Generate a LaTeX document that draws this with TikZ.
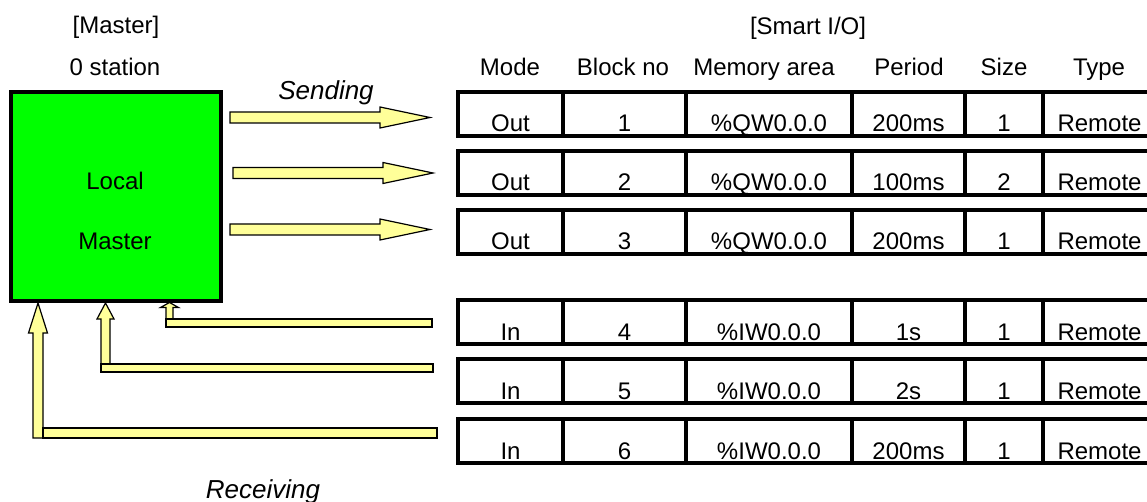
\documentclass[tikz,border=0pt]{standalone}
\usepackage{fontspec}
\setmainfont{Liberation Sans}
\usetikzlibrary{calc}
\definecolor{boxgreen}{HTML}{00FF00}
\definecolor{arrowyellow}{HTML}{FFFF99}
\tikzset{
  txt/.style={anchor=base, inner sep=0pt, font=\fontsize{24}{28}\selectfont},
  ittxt/.style={anchor=base, inner sep=0pt, font=\fontsize{26}{30}\selectfont\itshape},
  cellbox/.style={draw, line width=4pt, inner sep=0pt, minimum height=44pt},
  masterbox/.style={draw, line width=4pt, fill=boxgreen, inner sep=0pt, minimum width=210pt, minimum height=209pt},
  blockarrow/.style={draw, line width=1.2pt, fill=arrowyellow, line join=miter}
}
\newcommand{\iorow}[7]{%
  \node[cellbox, minimum width=105pt] (r#1a) at (510.5,{#2+22}) {};
  \node[cellbox, minimum width=123pt] (r#1b) at (624.5,{#2+22}) {};
  \node[cellbox, minimum width=166pt] (r#1c) at (769,{#2+22}) {};
  \node[cellbox, minimum width=113pt] (r#1d) at (908.5,{#2+22}) {};
  \node[cellbox, minimum width=78pt] (r#1e) at (1004,{#2+22}) {};
  \node[cellbox, minimum width=113pt] (r#1f) at (1099.5,{#2+22}) {};
  \node[txt] (t#1a) at ($(r#1a.south)+(0,-6)$) {#3};
  \node[txt] (t#1b) at ($(r#1b.south)+(0,-6)$) {#4};
  \node[txt] (t#1c) at ($(r#1c.south)+(0,-6)$) {#5};
  \node[txt] (t#1d) at ($(r#1d.south)+(0,-6)$) {#6};
  \node[txt] (t#1e) at ($(r#1e.south)+(0,-6)$) {#7};
  \node[txt] (t#1f) at ($(r#1f.south)+(0,-6)$) {Remote};
}
\begin{document}
\begin{tikzpicture}[x=1pt,y=-1pt]
\useasboundingbox (0,0) rectangle (1147,502);
\clip (0,0) rectangle (1147,502);
% headers
\node[txt] (hmaster) at (116,34) {[Master]};
\node[txt] (hstation) at (115,76) {0 station};
\node[txt] (hsmart) at (808,35) {[Smart I/O]};
\node[txt] (hmode) at (510,76) {Mode};
\node[txt] (hblock) at (623,76) {Block no};
\node[txt] (hmem) at (764,76) {Memory area};
\node[txt] (hper) at (909,76) {Period};
\node[txt] (hsize) at (1004,76) {Size};
\node[txt] (htype) at (1099,76) {Type};
% master
\node[masterbox] (master) at (116,196.5) {};
\node[txt] (local) at (115,190) {Local};
\node[txt] (mastertxt) at (115,250) {Master};
% table
\iorow{1}{92}{Out}{1}{\%QW0.0.0}{200ms}{1}
\iorow{2}{151}{Out}{2}{\%QW0.0.0}{100ms}{2}
\iorow{3}{210}{Out}{3}{\%QW0.0.0}{200ms}{1}
\iorow{4}{300}{In}{4}{\%IW0.0.0}{1s}{1}
\iorow{5}{359}{In}{5}{\%IW0.0.0}{2s}{1}
\iorow{6}{419}{In}{6}{\%IW0.0.0}{200ms}{1}
% sending arrows
\draw[blockarrow] (230,112) -- (380,112) -- (380,107) -- (430,117.5) -- (380,128) -- (380,123) -- (230,123) -- cycle;
\draw[blockarrow] (233,167.5) -- (383,167.5) -- (383,162.5) -- (433,173) -- (383,183.5) -- (383,178.5) -- (233,178.5) -- cycle;
\draw[blockarrow] (230,224) -- (380,224) -- (380,219) -- (430,229.5) -- (380,240) -- (380,235) -- (230,235) -- cycle;
\node[ittxt] (sending) at (326,100) {Sending};
% receiving arrows
\draw[blockarrow] (166,319) -- (166,307.5) -- (160.5,307.5) -- (169.5,302.5) -- (178.5,307.5) -- (173,307.5) -- (173,319) -- cycle;
\draw[blockarrow] (166,319) rectangle (432,327);
\draw[blockarrow] (101,364) -- (101,319) -- (97,319) -- (105.5,303) -- (114,319) -- (110,319) -- (110,364) -- cycle;
\draw[blockarrow] (101,364) rectangle (433,372);
\draw[blockarrow] (33,438) -- (33,333) -- (28.5,333) -- (38,303) -- (47.5,333) -- (43,333) -- (43,438) -- cycle;
\draw[blockarrow] (43,428) rectangle (437,438);
\node[ittxt] (receiving) at (263,498) {Receiving};
\end{tikzpicture}
\end{document}
